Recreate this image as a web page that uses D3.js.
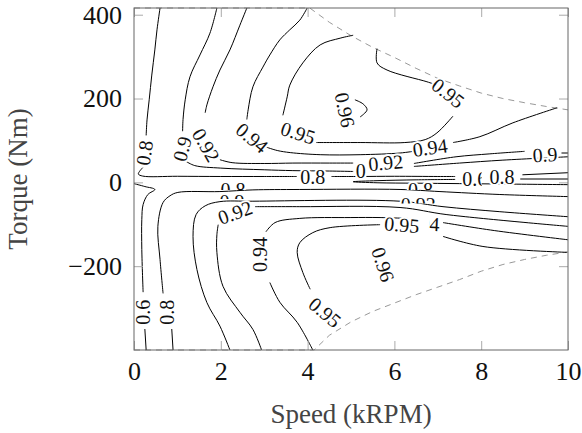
<!DOCTYPE html>
<html><head><meta charset="utf-8">
<script src="https://cdn.jsdelivr.net/npm/d3@7"></script>
<style>body{margin:0;background:#fff}svg{display:block}</style>
</head><body><svg id="c" width="582" height="433"></svg>
<script>
// ---- data (speed in kRPM, torque in Nm) ----
const xTicks=[0,2,4,6,8,10];
const yTicks=[-200,0,200,400];
const envTop=[[0,416],[4.05,416],[4.5,382],[5,350],[5.5,322],[6,298],[6.5,272],[7,248],[7.5,230],[8,213],[8.5,200],[9,190],[9.5,181],[10,173]];
const envBottom=[[0,-400],[4.15,-400],[4.5,-365],[5,-333],[5.5,-308],[6,-288],[6.5,-268],[7,-250],[7.5,-232],[8,-212],[8.5,-196],[9,-184],[9.5,-174],[10,-166]];

const c060a=[[0,-3],[0.25,-10],[0.48,-17],[0.32,-29],[0.21,-53],[0.18,-89],[0.18,-160],[0.21,-262]];
const c060b=[[0.25,-350],[0.28,-400]];
const c060r=[[7.4,7],[6.5,6],[5.6,4],[5.05,1.5],[5.6,-1],[6.5,-2],[7.5,-3],[8.5,-4],[10,-5.5]];
const c060s=[[8.9,8],[10,8]];

const c080a=[[0.60,416],[0.53,364],[0.48,316],[0.41,256],[0.35,197],[0.30,149],[0.28,112]];
const c080b=[[0.2,35],[0.1,20],[0.2,15],[1,14.5],[2,14],[3,14],[3.75,14]];
const c080c=[[4.55,14],[5.2,14],[6,14.5],[7,14],[7.4,14]];
const c080d=[[8.95,18],[10,23]];
const c080e=[[0.90,-400],[0.87,-350]];
const c080f=[[0.67,-265],[0.60,-184],[0.55,-105],[0.67,-48],[0.83,-32],[1.01,-24],[1.98,-22],[2.74,-18],[3.82,-17],[6.13,-17],[7.05,-22],[8.43,-29],[10,-34]];

const c090a=[[1.91,416],[1.75,356],[1.52,304],[1.29,252],[1.18,197],[1.13,150],[1.12,122]];
const c090b=[[1.2,50],[1.4,40],[2,34],[3,30],[3.66,28],[4.5,27],[5.05,26]];
const c090c=[[2.21,-400],[1.98,-343],[1.68,-287],[1.45,-208],[1.36,-129],[1.43,-77],[1.64,-56],[1.98,-46],[2.74,-45],[6.13,-45],[7.12,-58],[8.43,-70],[10,-82]];
const c090d=[[6.45,38],[7.5,46],[8.5,53],[10,61]];

const c092a=[[2.60,416],[2.44,375],[2.21,316],[1.98,268],[1.82,228],[1.68,185],[1.64,166]];
const c092b=[[1.98,54],[2.26,47],[3,45],[3.66,46],[4.5,46],[5.05,46]];
const c092c=[[6.45,45],[7.42,61],[8.2,68],[9.0,74]];
const c092s=[[9.85,70],[10,70]];
const c092d=[[2.94,-400],[2.74,-351],[2.44,-310],[2.05,-248],[1.91,-167],[1.91,-125],[1.94,-101]];
const c092e=[[2.79,-58],[3.82,-58],[6.13,-60],[7.21,-77],[10,-105]];

const c094a=[[3.99,416],[3.82,387],[3.59,364],[3.36,340],[3.13,304],[2.97,275],[2.74,228],[2.63,173],[2.60,150]];
const c094b=[[3.05,84],[3.3,76],[3.6,71],[4.29,66],[5.21,66],[6.13,70],[6.5,75]];
const c094c=[[7.35,95],[7.97,109],[8.73,142],[9.75,178]];
const c094d=[[4.12,-400],[3.76,-334],[3.36,-286],[3.13,-239]];
const c094e=[[3.04,-118],[3.25,-96],[3.82,-86],[4.98,-84],[5.67,-84],[6.3,-86]];
const c094f=[[7.12,-96],[8.3,-115],[10,-137]];

const c095a=[[5.05,351],[4.75,344],[4.29,328],[3.89,285],[3.59,232],[3.53,204],[3.43,160]];
const c095b=[[4.2,95],[5.21,95],[6.24,95],[6.71,102],[6.98,118],[7.35,158]];
const c095c=[[5.6,319],[5.6,285],[5.83,268],[6.75,240],[6.95,233]];
const c095d=[[4.06,-255],[3.89,-215],[3.76,-167],[3.82,-144],[4.12,-120],[4.52,-108],[5.67,-101]];
const c095e=[[7.12,-129],[8.04,-153],[9.98,-167]];

const c096a=[[5.09,197],[5.28,187],[5.37,173],[5.21,156]];

const contourSegments=[c060a,c060b,c060r,c060s,c080a,c080b,c080c,c080d,c080e,c080f,
  c090a,c090b,c090c,c090d,c092a,c092b,c092c,c092s,c092d,c092e,c094a,c094b,c094c,c094d,c094e,c094f,
  c095a,c095b,c095c,c095d,c095e,c096a];

// labels: text, speed, torque, angle, optional visible window [x0,x1,y0,y1] in px around the label centre
const contourLabels=[
  ["0.8",0.24,70,-82],["0.9",1.11,80,-75],["0.92",1.66,89,60],["0.94",2.72,106,40],
  ["0.95",3.78,118,18],["0.96",4.86,173,78],["0.95",7.24,213,38],["0.94",6.82,83,-8],
  ["0.9",5.4,28,0,[-16,-2,-14,14]],["0.92",5.8,47,-5],["0.9",9.47,66,-3],["0.8",4.12,12,0],
  ["0.6",7.85,8,0,[-15,7,-14,14]],["0.8",8.48,13,0],
  ["0.8",2.28,-18,0,[-30,30,-14,0]],["0.9",2.26,-47,0,[-30,30,-14,-3]],["0.92",2.33,-72,-20],
  ["0.8",6.6,-18,0,[-30,30,-14,0]],["0.92",6.55,-55,0,[-30,30,-14,-2]],
  ["0.94",6.64,-98,3,[7,30,-14,14]],["0.95",6.17,-101,5],
  ["0.6",0.2,-310,-90],["0.8",0.76,-310,-90],["0.94",2.9,-172,-90],
  ["0.95",4.4,-310,40],["0.96",5.74,-196,72]
];

// ---- drawing ----
const svg=d3.select('#c');
const x=d3.scaleLinear().domain([0,10]).range([134,568]);
const y=d3.scaleLinear().domain([-400,416]).range([350,8]);
const serif='"Liberation Serif","DejaVu Serif",serif';

const envLine=d3.line().x(d=>x(d[0])).y(d=>y(d[1]));
const lineGen=d3.line().x(d=>x(d[0])).y(d=>y(d[1])).curve(d3.curveCatmullRom.alpha(0.5));

svg.append('g').selectAll('path').data([envTop,envBottom]).join('path')
  .attr('d',envLine).attr('fill','none')
  .attr('stroke','#999').attr('stroke-width',1).attr('stroke-dasharray','6,5');

svg.append('g').selectAll('path').data(contourSegments).join('path')
  .attr('d',lineGen).attr('fill','none').attr('stroke','#000').attr('stroke-width',1);

const defs=svg.append('defs');
const lg=svg.append('g').attr('font-family',serif).attr('font-size',20);
contourLabels.forEach((l,i)=>{
  const g=lg.append('g').attr('transform',`translate(${x(l[1])},${y(l[2])}) rotate(${l[3]})`);
  if(l[4]){
    const w=l[4];
    defs.append('clipPath').attr('id','cl'+i).append('rect')
      .attr('x',w[0]).attr('y',w[2]).attr('width',w[1]-w[0]).attr('height',w[3]-w[2]);
    g.attr('clip-path',`url(#cl${i})`);
  }
  g.append('text').attr('text-anchor','middle').attr('dy','0.35em')
    .attr('stroke','#fff').attr('stroke-width',4).attr('paint-order','stroke')
    .attr('fill','#111').text(l[0]);
});

const ax=svg.append('g').attr('font-family',serif);
const xb=ax.append('g').attr('transform','translate(0,350)')
  .call(d3.axisBottom(x).tickValues(xTicks).tickSize(-9).tickPadding(12).tickFormat(d3.format('d')));
const xt=ax.append('g').attr('transform','translate(0,8)')
  .call(d3.axisTop(x).tickValues(xTicks).tickSize(-9).tickFormat(''));
const yl=ax.append('g').attr('transform','translate(134,0)')
  .call(d3.axisLeft(y).tickValues(yTicks).tickSize(-9).tickPadding(12).tickFormat(d=>d<0?'\u2212'+Math.abs(d):d));
const yr=ax.append('g').attr('transform','translate(568,0)')
  .call(d3.axisRight(y).tickValues(yTicks).tickSize(-9).tickFormat(''));
[xb,xt,yl,yr].forEach(g=>{
  g.select('.domain').remove();
  g.selectAll('.tick line').attr('stroke','#aaa');
  g.selectAll('.tick text').attr('font-size',26).attr('fill','#111').attr('font-family',serif);
});
svg.append('rect').attr('x',134).attr('y',8).attr('width',434).attr('height',342)
  .attr('fill','none').attr('stroke','#666').attr('stroke-width',1);

svg.append('text').attr('x',351).attr('y',423).attr('text-anchor','middle')
  .attr('font-family',serif).attr('font-size',27).attr('fill','#444').text('Speed (kRPM)');
svg.append('text').attr('transform','translate(27,179) rotate(-90)').attr('text-anchor','middle')
  .attr('font-family',serif).attr('font-size',27).attr('fill','#444').text('Torque (Nm)');
</script></body></html>
